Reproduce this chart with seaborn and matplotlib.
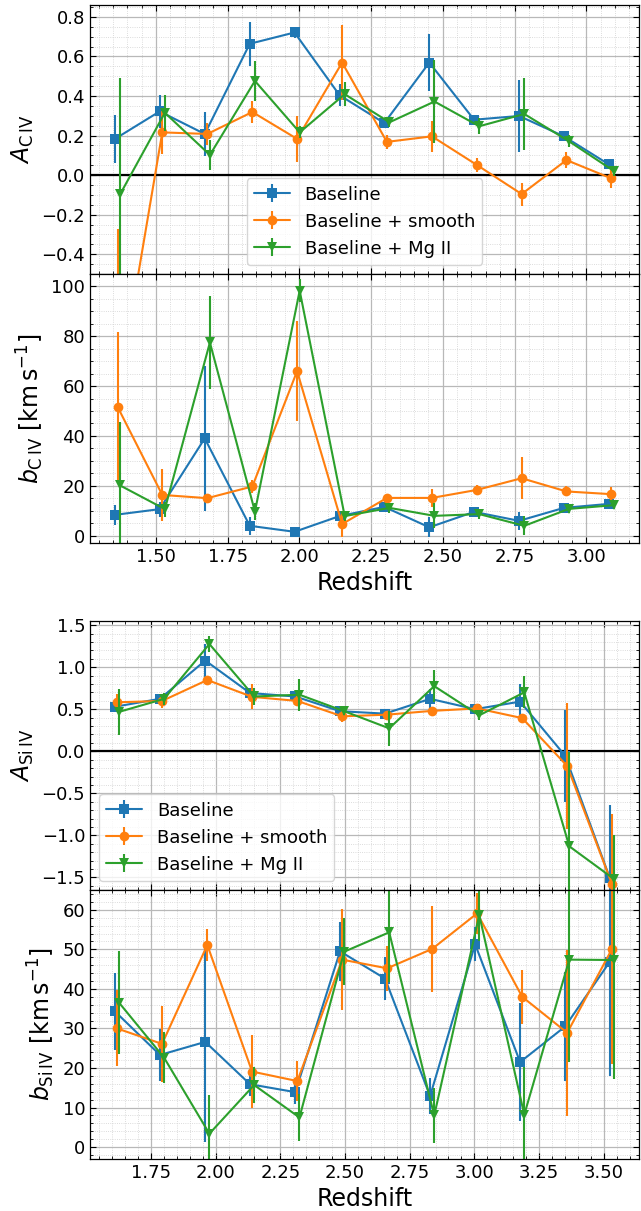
import numpy as np
import pandas as pd
import matplotlib
matplotlib.use("Agg")
import matplotlib.pyplot as plt
import seaborn as sns
from matplotlib.legend_handler import HandlerTuple
from matplotlib.ticker import MultipleLocator, AutoMinorLocator

# ---------------- data ----------------
series_names = ["Baseline", "Baseline + smooth", "Baseline + Mg II"]
series_colors = ["#1f77b4", "#ff7f0e", "#2ca02c"]
series_markers = ["s", "o", "v"]

# C IV redshift bins
z_civ = [1.366, 1.522, 1.679, 1.836, 1.992, 2.149, 2.305, 2.462, 2.618, 2.775, 2.931, 3.088]

A_civ_base = [0.183, 0.322, 0.208, 0.664, 0.721, 0.404, 0.263, 0.569, 0.280, 0.299, 0.196, 0.054]
A_civ_base_err = [0.12, 0.085, 0.11, 0.11, 0.03, 0.055, 0.02, 0.145, 0.02, 0.18, 0.015, 0.025]
A_civ_smooth = [-1.12, 0.216, 0.208, 0.319, 0.183, 0.569, 0.168, 0.196, 0.052, -0.096, 0.076, -0.017]
A_civ_smooth_err = [0.85, 0.11, 0.055, 0.055, 0.115, 0.19, 0.035, 0.08, 0.035, 0.058, 0.04, 0.05]
A_civ_mg = [-0.097, 0.315, 0.102, 0.476, 0.216, 0.409, 0.267, 0.372, 0.247, 0.309, 0.171, 0.020]
A_civ_mg_err = [0.59, 0.09, 0.075, 0.1, 0.03, 0.06, 0.025, 0.21, 0.04, 0.18, 0.03, 0.025]

b_civ_base = [8.3, 10.6, 39.0, 3.9, 1.5, 7.8, 11.5, 3.3, 9.5, 5.9, 11.1, 12.7]
b_civ_base_err = [4, 3, 29, 3.5, 1, 2, 2, 4, 1.5, 3.5, 1.5, 1.5]
b_civ_smooth = [51.7, 16.3, 15.0, 19.7, 66.0, 4.6, 15.1, 15.1, 18.3, 23.0, 17.7, 16.6]
b_civ_smooth_err = [30, 10.5, 1.5, 2.5, 20, 5, 1.5, 3.5, 2, 8.5, 2, 3]
b_civ_mg = [20.1, 10.6, 77.5, 9.6, 98.3, 7.8, 11.1, 7.9, 8.6, 3.9, 10.7, 12.2]
b_civ_mg_err = [25.5, 3, 18.7, 3.5, 4.5, 2, 2, 5, 2, 3.8, 1.5, 1.5]

# Si IV redshift bins
z_siiv = [1.619, 1.793, 1.968, 2.141, 2.316, 2.489, 2.663, 2.837, 3.011, 3.185, 3.359, 3.532]

A_siiv_base = [0.530, 0.624, 1.080, 0.693, 0.652, 0.477, 0.448, 0.624, 0.501, 0.591, -0.053, -1.51]
A_siiv_base_err = [0.05, 0.04, 0.2, 0.04, 0.05, 0.03, 0.03, 0.12, 0.03, 0.21, 0.55, 0.87]
A_siiv_smooth = [0.583, 0.599, 0.848, 0.648, 0.599, 0.416, 0.436, 0.481, 0.510, 0.395, -0.175, -1.58]
A_siiv_smooth_err = [0.1, 0.08, 0.03, 0.15, 0.06, 0.07, 0.04, 0.03, 0.03, 0.03, 0.75, 0.83]
A_siiv_mg = [0.469, 0.624, 1.276, 0.652, 0.673, 0.477, 0.273, 0.775, 0.428, 0.701, -1.13, -1.52]
A_siiv_mg_err = [0.27, 0.07, 0.09, 0.1, 0.19, 0.04, 0.21, 0.19, 0.05, 0.19, 1.12, 0.52]

b_siiv_base = [34.3, 23.3, 26.6, 15.9, 13.9, 49.5, 42.6, 12.9, 51.3, 21.5, 30.5, 46.9]
b_siiv_base_err = [9.8, 6.5, 25.2, 3, 3, 7.5, 5.5, 4.6, 4.3, 15, 13.7, 29]
b_siiv_smooth = [30.0, 26.1, 51.1, 19.1, 16.7, 47.4, 45.2, 50.1, 59.1, 38.0, 28.9, 50.1]
b_siiv_smooth_err = [9.6, 9.7, 4, 9.2, 5, 12.7, 5.7, 10.9, 5.2, 6.8, 21, 29]
b_siiv_mg = [36.5, 22.6, 3.4, 15.7, 7.5, 49.4, 54.3, 8.0, 58.7, 8.2, 47.4, 47.3]
b_siiv_mg_err = [13, 6.5, 9.7, 4.5, 6, 8.4, 12.5, 7, 6.5, 12, 26, 30]

# horizontal dodge of the three series (style)
civ_offsets = [-0.009, 0.0, 0.009]
siiv_offsets = [-0.008, 0.0, 0.008]

# ---------------- style ----------------
sns.set_style("ticks")
plt.rcParams.update({
    "font.family": ["DejaVu Sans"],
    "axes.edgecolor": "black",
    "axes.linewidth": 0.9,
    "xtick.color": "black",
    "ytick.color": "black",
    "xtick.direction": "in",
    "ytick.direction": "in",
    "xtick.top": True,
    "ytick.right": True,
    "xtick.major.size": 4.5,
    "ytick.major.size": 4.5,
    "xtick.minor.size": 2.5,
    "ytick.minor.size": 2.5,
    "xtick.labelsize": 13,
    "ytick.labelsize": 13,
    "axes.labelsize": 17,
    "legend.fontsize": 13,
    "text.color": "black",
    "axes.labelcolor": "black",
})

fig = plt.figure(figsize=(6.41, 12.11), dpi=100)
H = 1211.0
W = 641.0
left = 90 / W
width = 549 / W


def rect(top_px, bot_px):
    return [left, (H - bot_px) / H, width, (bot_px - top_px) / H]


ax1 = fig.add_axes(rect(5, 274))
ax2 = fig.add_axes(rect(274, 543), sharex=ax1)
ax3 = fig.add_axes(rect(621, 890))
ax4 = fig.add_axes(rect(890, 1159), sharex=ax3)


def draw(ax, z, offsets, ys, errs):
    handles = []
    for name, color, marker, off, y, e in zip(series_names, series_colors, series_markers,
                                              offsets, ys, errs):
        df = pd.DataFrame({"z": np.asarray(z) + off, "v": y, "err": e})
        eb = ax.errorbar(df["z"], df["v"], yerr=df["err"], fmt="none", ecolor=color,
                         elinewidth=1.5, capsize=0, zorder=2)
        sns.lineplot(data=df, x="z", y="v", ax=ax, color=color, marker=marker,
                     markersize=7, markeredgecolor=color, markeredgewidth=0,
                     linewidth=1.5, sort=False, errorbar=None, legend=False, zorder=2)
        line = ax.lines[-1]
        handles.append((eb, line))
    return handles


h1 = draw(ax1, z_civ, civ_offsets, [A_civ_base, A_civ_smooth, A_civ_mg],
          [A_civ_base_err, A_civ_smooth_err, A_civ_mg_err])
draw(ax2, z_civ, civ_offsets, [b_civ_base, b_civ_smooth, b_civ_mg],
     [b_civ_base_err, b_civ_smooth_err, b_civ_mg_err])
h3 = draw(ax3, z_siiv, siiv_offsets, [A_siiv_base, A_siiv_smooth, A_siiv_mg],
          [A_siiv_base_err, A_siiv_smooth_err, A_siiv_mg_err])
draw(ax4, z_siiv, siiv_offsets, [b_siiv_base, b_siiv_smooth, b_siiv_mg],
     [b_siiv_base_err, b_siiv_smooth_err, b_siiv_mg_err])

for ax in (ax1, ax3):
    ax.axhline(0, color="black", lw=1.6, zorder=1.5)

ax1.set_ylim(-0.5, 0.86)
ax2.set_ylim(-3, 105)
ax3.set_ylim(-1.65, 1.55)
ax4.set_ylim(-3, 65)

ax1.yaxis.set_major_locator(MultipleLocator(0.2))
ax2.yaxis.set_major_locator(MultipleLocator(20))
ax3.yaxis.set_major_locator(MultipleLocator(0.5))
ax4.yaxis.set_major_locator(MultipleLocator(10))
for ax in (ax1, ax2, ax3, ax4):
    ax.xaxis.set_major_locator(MultipleLocator(0.25))
    ax.xaxis.set_minor_locator(AutoMinorLocator())
    ax.yaxis.set_minor_locator(AutoMinorLocator())
    ax.grid(True, which="major", color="#b8b8b8", lw=0.9, ls="-", zorder=0)
    ax.grid(True, which="minor", color="#d0d0d0", lw=0.6, ls=":", zorder=0)
    ax.set_axisbelow(True)
    ax.tick_params(which="both", direction="in", top=True, right=True)

ax1.tick_params(labelbottom=False)
ax3.tick_params(labelbottom=False)
ax1.set_xlabel("")
ax3.set_xlabel("")
ax2.set_xlabel("Redshift")
ax4.set_xlabel("Redshift")

ax1.set_ylabel(r"$A_{\rm C\,IV}$")
ax2.set_ylabel(r"$b_{\rm C\,IV}$ [km$\,$s$^{-1}$]")
ax3.set_ylabel(r"$A_{\rm Si\,IV}$")
ax4.set_ylabel(r"$b_{\rm Si\,IV}$ [km$\,$s$^{-1}$]")

leg_kw = dict(handler_map={tuple: HandlerTuple(ndivide=1)}, frameon=True,
              framealpha=0.8, edgecolor="0.8", fancybox=True)
ax1.legend(h1, series_names, loc="lower center", **leg_kw)
ax3.legend(h3, series_names, loc="lower left", **leg_kw)

fig.savefig("out.png", dpi=100)
